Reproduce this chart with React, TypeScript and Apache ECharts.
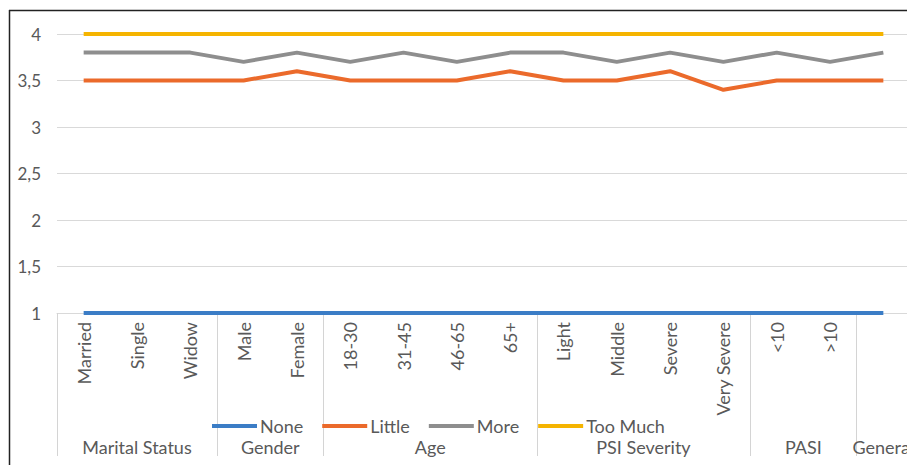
import React, { useEffect, useRef } from "react";
import * as echarts from "echarts";

const categories = ["Married", "Single", "Widow", "Male", "Female", "18-30", "31-45", "46-65", "65+", "Light", "Middle", "Severe", "Very Severe", "<10", ">10", ""];
const groupNames = ["Marital Status", "Gender", "Age", "PSI Severity", "PASI", "General"];
const groupSizes = [3, 2, 4, 4, 2, 1];

const seriesNames = ["None", "Little", "More", "Too Much"];
const noneValues = [1, 1, 1, 1, 1, 1, 1, 1, 1, 1, 1, 1, 1, 1, 1, 1];
const littleValues = [3.5, 3.5, 3.5, 3.5, 3.6, 3.5, 3.5, 3.5, 3.6, 3.5, 3.5, 3.6, 3.4, 3.5, 3.5, 3.5];
const moreValues = [3.8, 3.8, 3.8, 3.7, 3.8, 3.7, 3.8, 3.7, 3.8, 3.8, 3.7, 3.8, 3.7, 3.8, 3.7, 3.8];
const tooMuchValues = [4, 4, 4, 4, 4, 4, 4, 4, 4, 4, 4, 4, 4, 4, 4, 4];

const yMin = 1;
const yMax = 4;
const yInterval = 0.5;

const colors = ["#3B7DC6", "#EB6A2B", "#8E8E8E", "#F5B400"];
const FONT = "Lato";
const TEXT = "#595959";

export default function App() {
  const ref = useRef<HTMLDivElement>(null);
  useEffect(() => {
    if (!ref.current) return;
    const chart = echarts.init(ref.current, null, { renderer: "svg" });

    const bounds: number[] = [0];
    groupSizes.forEach((s) => bounds.push(bounds[bounds.length - 1] + s));
    const centers = groupSizes.map((s, i) => bounds[i] + s / 2);

    const allValues = [noneValues, littleValues, moreValues, tooMuchValues];

    chart.setOption({
      animation: false,
      color: colors,
      textStyle: { fontFamily: FONT },
      grid: { left: 57, right: 10, top: 34, bottom: 152, containLabel: false },
      legend: {
        data: seriesNames,
        left: 207,
        top: 412,
        icon: "rect",
        itemWidth: 45,
        itemHeight: 4,
        itemGap: 19,
        textStyle: { fontFamily: FONT, fontSize: 18, color: TEXT, padding: [0, 0, 0, -2] },
      },
      xAxis: [
        {
          type: "category",
          data: categories,
          boundaryGap: true,
          axisLine: { show: true, lineStyle: { color: "#d9d9d9", width: 1 } },
          axisTick: { show: false },
          axisLabel: {
            rotate: 90,
            interval: 0,
            margin: 9,
            fontFamily: FONT,
            fontSize: 18,
            color: TEXT,
          },
          splitLine: { show: false },
        },
        {
          type: "value",
          min: 0,
          max: categories.length,
          position: "bottom",
          axisLine: { show: false },
          splitLine: { show: false },
          axisTick: {
            show: true,
            customValues: bounds,
            length: 143,
            lineStyle: { color: "#d4d4d4", width: 1 },
          },
          axisLabel: {
            show: true,
            customValues: centers,
            margin: 125,
            fontFamily: FONT,
            fontSize: 18,
            color: TEXT,
            formatter: (v: number) => {
              const i = centers.findIndex((c) => Math.abs(c - v) < 1e-6);
              return i >= 0 ? groupNames[i] : "";
            },
          },
        },
      ],
      yAxis: {
        type: "value",
        min: yMin,
        max: yMax,
        interval: yInterval,
        axisLine: { show: false },
        axisTick: { show: false },
        splitLine: { lineStyle: { color: "#d9d9d9", width: 1 } },
        axisLabel: {
          margin: 16,
          fontFamily: FONT,
          fontSize: 17,
          color: TEXT,
          formatter: (v: number) => String(v).replace(".", ","),
        },
      },
      series: seriesNames.map((name, i) => ({
        name,
        type: "line",
        xAxisIndex: 0,
        data: allValues[i],
        symbol: "none",
        clip: false,
        lineStyle: { width: 4, color: colors[i] },
        itemStyle: { color: colors[i] },
        z: 3 + i,
      })),
      graphic: [
        { type: "line", shape: { x1: 9.5, y1: 10, x2: 9.5, y2: 465 }, style: { stroke: "#222", lineWidth: 1.5 }, silent: true },
        { type: "line", shape: { x1: 9, y1: 10.5, x2: 920, y2: 10.5 }, style: { stroke: "#222", lineWidth: 1.5 }, silent: true },
      ],
    });
    return () => chart.dispose();
  }, []);
  return (
    <div style={{ position: "fixed", left: 0, top: 0, width: 907, height: 465, overflow: "hidden", background: "#fff" }}>
      <div ref={ref} style={{ width: 920, height: 465 }} />
    </div>
  );
}
